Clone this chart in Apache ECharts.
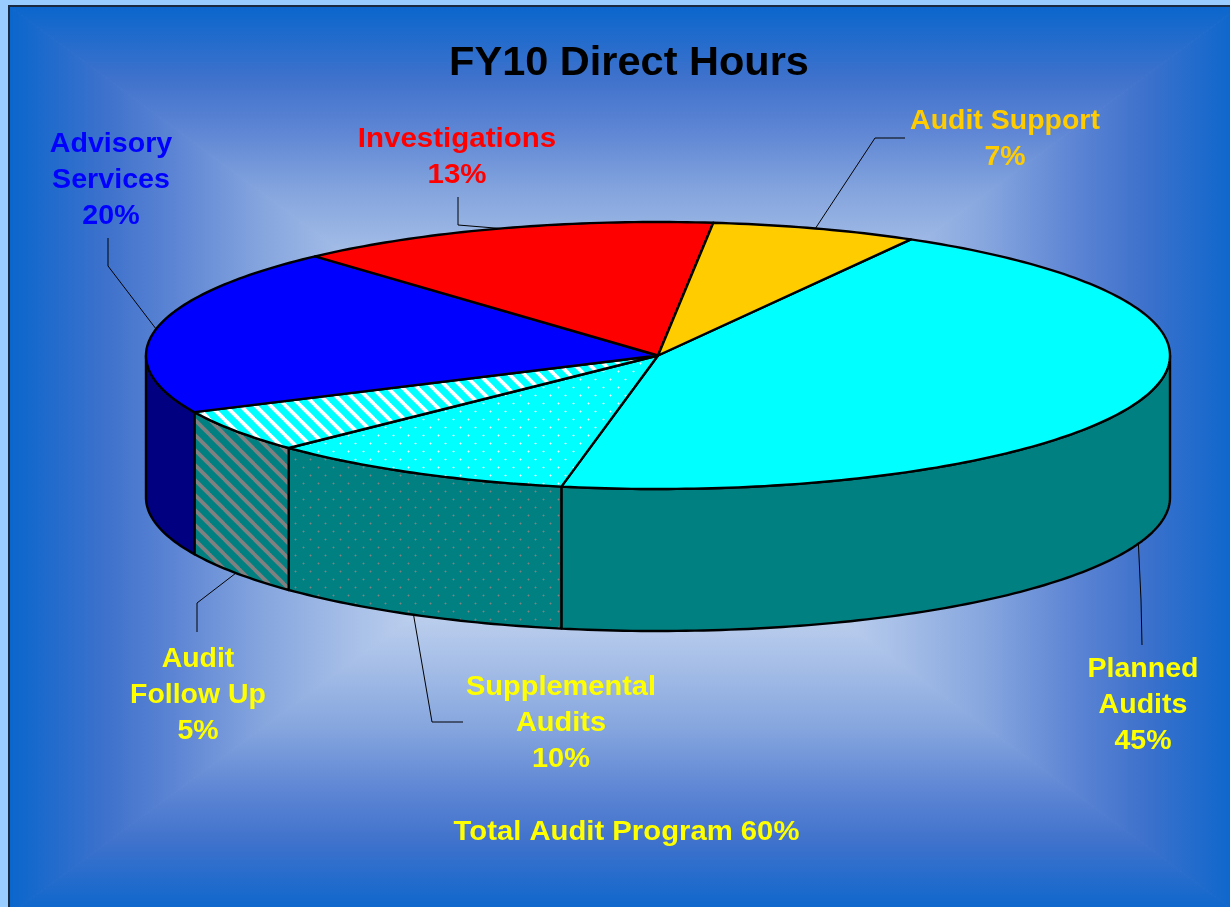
<!DOCTYPE html>
<html>
<head>
<meta charset="utf-8">
<title>FY10 Direct Hours</title>
<script src="https://cdn.jsdelivr.net/npm/echarts@6/dist/echarts.min.js"></script>
<style>
	html, body { margin: 0; padding: 0; background: #99ccff; }
	#chart { width: 1230px; height: 907px; }
</style>
</head>
<body>
<div id="chart"></div>
<script>
// shares, the printed labels round them
const categories = ["Planned\nAudits", "Supplemental\nAudits", "Audit\nFollow Up", "Advisory\nServices", "Investigations", "Audit Support"];
const shares = [44.8, 9.8, 5.2, 20.3, 13.4, 6.5];
const titleText = "FY10 Direct Hours";
const noteText = "Total Audit Program 60%";

const topColors = ["#00ffff", "dots", "stripes", "#0000ff", "#ff0000", "#ffcc00"];
const wallColors = ["#008080", "wallDots", "wallStripes", "#000080", "#800000", "#806600"];
const labelColors = ["#ffff00", "#ffff00", "#ffff00", "#0000ff", "#ff0000", "#ffcc00"];
// label centre, first line y, text stretch, then the elbow of the leader line and where it ends
const labelSpots = [
	{x: 1143, y: 652, stretch: 1.057, elbow: [1141, 600], end: [1142, 645]},
	{x: 561, y: 670, stretch: 1.073, elbow: [432, 722], end: [463, 722]},
	{x: 198, y: 642, stretch: 1.054, elbow: [197, 603], end: [197, 632]},
	{x: 111, y: 127, stretch: 1.06, elbow: [108, 266], end: [108, 238]},
	{x: 457, y: 122, stretch: 1.093, elbow: [458, 225], end: [458, 197]},
	{x: 1005, y: 104, stretch: 1.055, elbow: [875, 138], end: [905, 138]}
];

const cx = 658, cy = 355.5, rx = 512, ry = 133.5, depth = 142;
const startAngle = 29.6;
const total = shares.reduce((a, b) => a + b, 0);

function makeTile(w, h, bg, draw) {
	const c = document.createElement("canvas");
	c.width = w;
	c.height = h;
	const g = c.getContext("2d");
	g.fillStyle = bg;
	g.fillRect(0, 0, w, h);
	draw(g);
	return {image: c, repeat: "repeat"};
}
function stripes(bg, fg) {
	return makeTile(15, 15, bg, (g) => {
		g.strokeStyle = fg;
		g.lineWidth = 3.8;
		[-15, 0, 15].forEach((o) => {
			g.beginPath();
			g.moveTo(o - 1, -1);
			g.lineTo(o + 16, 16);
			g.stroke();
		});
	});
}
function softDot(g, x, y) {
	g.globalAlpha = 0.45;
	g.fillRect(x - 1, y, 3, 1);
	g.fillRect(x, y - 1, 1, 3);
	g.globalAlpha = 1;
	g.fillRect(x, y, 1, 1);
}
function dots(bg, fg) {
	return makeTile(15, 16, bg, (g) => {
		g.fillStyle = fg;
		softDot(g, 3, 3);
		softDot(g, 10, 11);
	});
}
const fills = {
	stripes: stripes("#00ffff", "#ffffff"),
	dots: dots("#00ffff", "#ffffff"),
	wallStripes: stripes("#008080", "#808080"),
	wallDots: dots("#008080", "#808080")
};
const pickFill = (c) => fills[c] || c;

function rimPoint(deg, drop) {
	const a = deg * Math.PI / 180;
	return [cx + rx * Math.sin(a), cy - ry * Math.cos(a) + drop];
}
function arcPoints(from, to, drop) {
	const pts = [];
	const n = Math.max(2, Math.ceil(Math.abs(to - from)));
	for (let i = 0; i <= n; i++) {
		pts.push(rimPoint(from + (to - from) * i / n, drop));
	}
	return pts;
}
function angleOf(cum) {
	return echarts.number.linearMap(cum, [0, total], [startAngle, startAngle + 360]);
}

function renderSlice(params, api) {
	const i = params.dataIndex;
	const before = shares.slice(0, i).reduce((a, b) => a + b, 0);
	const from = angleOf(before);
	const to = angleOf(before + api.value(0));
	const mid = (from + to) / 2;
	const children = [];

	// front wall only between the two side tangents
	const wallFrom = Math.max(from, 90);
	const wallTo = Math.min(to, 270);
	if (wallFrom < wallTo) {
		const upper = arcPoints(wallFrom, wallTo, 0);
		const lower = arcPoints(wallTo, wallFrom, depth);
		children.push({
			type: "polygon",
			shape: {points: upper.concat(lower)},
			style: {fill: pickFill(wallColors[i]), stroke: "#000", lineWidth: 2.4, lineJoin: "round"},
			z2: 1
		});
	}

	// top face
	children.push({
		type: "polygon",
		shape: {points: [[cx, cy]].concat(arcPoints(from, to, 0))},
		style: {fill: pickFill(topColors[i]), stroke: "#000", lineWidth: 2.4, lineJoin: "round"},
		z2: 2
	});

	// leader line hangs off the middle of the slice's outer edge
	const spot = labelSpots[i];
	const onWall = mid > 90 && mid < 270;
	children.push({
		type: "polyline",
		shape: {points: [rimPoint(mid, onWall ? depth : 0), spot.elbow, spot.end]},
		style: {fill: null, stroke: "#000", lineWidth: 1},
		z2: 0
	});

	children.push({
		type: "text",
		x: spot.x,
		y: spot.y,
		scaleX: spot.stretch,
		style: {
			text: categories[i] + "\n" + Math.round(api.value(0)) + "%",
			align: "center",
			verticalAlign: "top",
			fill: labelColors[i],
			font: "bold 27px 'Liberation Sans', Arial, sans-serif",
			lineHeight: 36
		},
		z2: 4
	});

	return {type: "group", children: children};
}

// rectangular path gradient: four triangles meeting in the middle
const bgLeft = 9, bgTop = 6, bgRight = 1240, bgBottom = 915;
const bgX = (bgLeft + bgRight) / 2, bgY = (bgTop + bgBottom) / 2;
const bgStops = [
	{offset: 0, color: "#0a66cc"},
	{offset: 0.16, color: "#3f72cc"},
	{offset: 0.27, color: "#5d85d4"},
	{offset: 0.41, color: "#85a5de"},
	{offset: 0.56, color: "#a8c0e8"},
	{offset: 1, color: "#ffffff"}
];
function bgFace(ax, ay, bx, by, x, y, x2, y2) {
	const grad = {type: "linear", x: x, y: y, x2: x2, y2: y2, global: true, colorStops: bgStops};
	return {
		type: "polygon",
		shape: {points: [[ax, ay], [bx, by], [bgX, bgY]]},
		style: {fill: grad, stroke: grad, lineWidth: 1}
	};
}

const myChart = echarts.init(document.getElementById("chart"));
myChart.setOption({
	animation: false,
	title: {
		text: titleText,
		left: 624,
		top: 38,
		textAlign: "center",
		textStyle: {color: "#000", fontFamily: "Liberation Sans", fontWeight: "bold", fontSize: 41.5}
	},
	graphic: [
		bgFace(bgLeft, bgTop, bgLeft, bgBottom, bgLeft, 0, bgX, 0),
		bgFace(bgRight, bgTop, bgRight, bgBottom, bgRight, 0, bgX, 0),
		bgFace(bgLeft, bgTop, bgRight, bgTop, 0, bgTop, 0, bgY),
		bgFace(bgLeft, bgBottom, bgRight, bgBottom, 0, bgBottom, 0, bgY),
		{
			type: "rect",
			shape: {x: bgLeft, y: bgTop, width: bgRight - bgLeft, height: bgBottom - bgTop},
			style: {fill: null, stroke: "#1a2a40", lineWidth: 2}
		},
		{
			type: "text",
			x: 626.5,
			y: 819,
			scaleX: 1.084,
			style: {
				text: noteText,
				align: "center",
				verticalAlign: "top",
				fill: "#ffff00",
				font: "bold 27px 'Liberation Sans', Arial, sans-serif"
			}
		}
	],
	series: [{
		type: "custom",
		coordinateSystem: "none",
		data: shares.map((v) => [v]),
		renderItem: renderSlice,
		silent: true
	}]
});
</script>
</body>
</html>
